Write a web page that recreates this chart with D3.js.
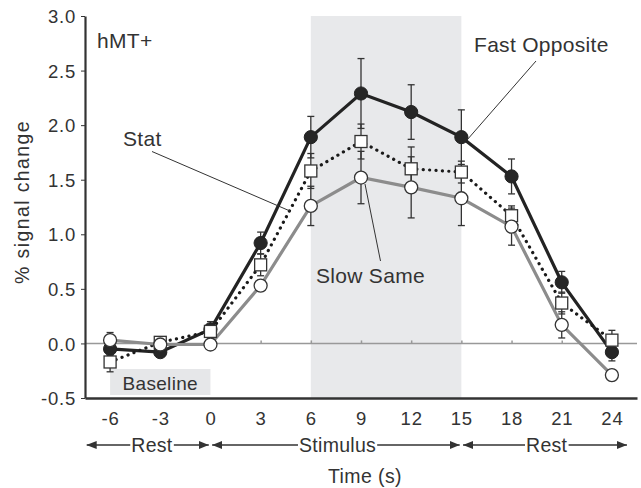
<!DOCTYPE html>
<html><head><meta charset="utf-8">
<script src="https://cdn.jsdelivr.net/npm/d3@7"></script>
<style>body{margin:0;background:#fff}svg{display:block}text{font-family:"Liberation Sans",Arial,Helvetica,sans-serif;fill:#333}</style>
</head><body>
<script>
const times = [-6,-3,0,3,6,9,12,15,18,21,24];
const fastOpposite = [-0.05,-0.08,0.13,0.92,1.89,2.29,2.12,1.89,1.53,0.56,-0.08];
const fastErr      = [0.06,0.03,0.07,0.10,0.19,0.32,0.25,0.25,0.16,0.10,0.08];
const stat         = [-0.17,0.01,0.11,0.72,1.58,1.85,1.60,1.57,1.17,0.37,0.03];
const statErr      = [0.09,0.03,0.06,0.10,0.16,0.16,0.20,0.10,0.09,0.10,0.09];
const slowSame     = [0.03,-0.01,-0.01,0.53,1.26,1.52,1.43,1.33,1.07,0.17,-0.29];
const slowErr      = [0.07,0.03,0.04,0.05,0.18,0.24,0.28,0.25,0.17,0.12,0.05];
const yTicks = [-0.5,0,0.5,1,1.5,2,2.5,3];
const xTicks = [-6,-3,0,3,6,9,12,15,18,21,24];

const W=641,H=488;
const svg=d3.select("body").append("svg").attr("width",W).attr("height",H);
const x=d3.scaleLinear().domain([-7.5,25.5]).range([85,637]);
const y=d3.scaleLinear().domain([-0.5,3.0]).range([398,16]);
const hy=f=>d=>f(d).replace("\u2212","-");

// stimulus shading
svg.append("rect").attr("x",x(6)).attr("y",y(3.0)).attr("width",x(15)-x(6)).attr("height",y(-0.5)-y(3.0)).attr("fill","#e8e9eb");
// baseline box
svg.append("rect").attr("x",x(-6)).attr("y",369).attr("width",x(0)-x(-6)).attr("height",26).attr("fill","#e6e7e9");
svg.append("text").attr("x",(x(-6)+x(0))/2).attr("y",390).attr("text-anchor","middle").attr("font-size",19).attr("letter-spacing",0.3).text("Baseline");

// zero line with ticks
const zl=svg.append("g").attr("transform",`translate(0,${y(0)})`)
  .call(d3.axisTop(x).tickValues(xTicks).tickSize(3).tickFormat("").tickSizeOuter(0));
zl.selectAll("path,line").attr("stroke","#999").attr("stroke-width",1.5);
zl.select("path").attr("d",`M${x(-7.5)},0H${x(25.5)}`);

// y axis
const ya=svg.append("g").attr("transform","translate(85,0)")
  .call(d3.axisLeft(y).tickValues(yTicks).tickSize(4).tickSizeOuter(0).tickFormat(hy(d3.format(".1f"))));
ya.select("path").attr("stroke","#333").attr("stroke-width",2.2);
ya.selectAll("line").attr("stroke","#333");
ya.selectAll("text").attr("font-size",18.5).attr("letter-spacing",0.8).attr("x",-9).attr("dy","0.36em").attr("font-family","Liberation Sans, Arial").attr("fill","#333");

// x axis
const xa=svg.append("g").attr("transform",`translate(0,${y(-0.5)})`)
  .call(d3.axisBottom(x).tickValues(xTicks).tickSize(0).tickSizeOuter(0).tickFormat(hy(d3.format("d"))));
xa.select("path").attr("stroke","#333").attr("stroke-width",2.5);
xa.selectAll("text").attr("font-size",18.5).attr("letter-spacing",0.8).attr("y",14).attr("font-family","Liberation Sans, Arial").attr("fill","#333");

// titles
svg.append("text").attr("transform","translate(29,202) rotate(-90)").attr("text-anchor","middle").attr("font-size",19.5).attr("letter-spacing",1.4).text("% signal change");
svg.append("text").attr("x",365).attr("y",483).attr("text-anchor","middle").attr("font-size",19.5).attr("letter-spacing",0.4).text("Time (s)");

// period arrows
const defs=svg.append("defs");
defs.append("marker").attr("id","ah").attr("viewBox","0 0 10 10").attr("refX",10).attr("refY",5)
  .attr("markerWidth",10).attr("markerHeight",10).attr("markerUnits","userSpaceOnUse").attr("orient","auto-start-reverse")
  .append("path").attr("d","M0,1L10,5L0,9Z").attr("fill","#333");
const periodLabels=["Rest","Stimulus","Rest"];
const periodStart=[-7.4,0.1,15.1], periodEnd=[-0.1,14.9,24.9], periodCenter=[-3.5,7.6,20.1];
const ay=445;
periodLabels.forEach((lab,i)=>{
  const t=svg.append("text").attr("x",x(periodCenter[i])).attr("y",ay+7).attr("text-anchor","middle").attr("font-size",19.5).attr("letter-spacing",0.3).text(lab);
  const bb=t.node().getBBox();
  svg.append("line").attr("x1",bb.x-1).attr("x2",x(periodStart[i])).attr("y1",ay).attr("y2",ay).attr("stroke","#333").attr("stroke-width",1.5).attr("marker-end","url(#ah)");
  svg.append("line").attr("x1",bb.x+bb.width+1).attr("x2",x(periodEnd[i])).attr("y1",ay).attr("y2",ay).attr("stroke","#333").attr("stroke-width",1.5).attr("marker-end","url(#ah)");
});

// error bars
function errBars(vals,errs){
  const g=svg.append("g").attr("stroke","#333").attr("stroke-width",1.3);
  times.forEach((t,i)=>{
    const cx=x(t),y1=y(vals[i]+errs[i]),y2=y(vals[i]-errs[i]);
    g.append("line").attr("x1",cx).attr("x2",cx).attr("y1",y1).attr("y2",y2);
    g.append("line").attr("x1",cx-3.5).attr("x2",cx+3.5).attr("y1",y1).attr("y2",y1);
    g.append("line").attr("x1",cx-3.5).attr("x2",cx+3.5).attr("y1",y2).attr("y2",y2);
  });
}
errBars(fastOpposite,fastErr);errBars(stat,statErr);errBars(slowSame,slowErr);

const line=d3.line().x((d,i)=>x(times[i])).y(d=>y(d));
svg.append("path").datum(fastOpposite).attr("d",line).attr("fill","none").attr("stroke","#232323").attr("stroke-width",3.2);
svg.append("path").datum(stat).attr("d",line).attr("fill","none").attr("stroke","#1a1a1a").attr("stroke-width",3.2).attr("stroke-linecap","round").attr("stroke-dasharray","0.1 6.3");
svg.append("path").datum(slowSame).attr("d",line).attr("fill","none").attr("stroke","#8c8c8c").attr("stroke-width",3.2);

// markers
svg.append("g").selectAll("circle").data(fastOpposite).join("circle")
  .attr("cx",(d,i)=>x(times[i])).attr("cy",d=>y(d)).attr("r",6.6).attr("fill","#262626").attr("stroke","#222").attr("stroke-width",1);
svg.append("g").selectAll("rect").data(stat).join("rect")
  .attr("x",(d,i)=>x(times[i])-6).attr("y",d=>y(d)-6).attr("width",12).attr("height",12).attr("fill","#fff").attr("stroke","#333").attr("stroke-width",1.3);
svg.append("g").selectAll("circle").data(slowSame).join("circle")
  .attr("cx",(d,i)=>x(times[i])).attr("cy",d=>y(d)).attr("r",6.5).attr("fill","#fff").attr("stroke","#333").attr("stroke-width",1.3);

// annotations
svg.append("text").attr("x",97).attr("y",48).attr("font-size",21).attr("letter-spacing",0.3).text("hMT+");
svg.append("text").attr("x",123).attr("y",146).attr("font-size",21).attr("letter-spacing",0.3).text("Stat");
svg.append("line").attr("x1",152).attr("y1",151.5).attr("x2",290).attr("y2",211).attr("stroke","#333").attr("stroke-width",1);
svg.append("text").attr("x",474).attr("y",52).attr("font-size",21).attr("letter-spacing",0.3).text("Fast Opposite");
svg.append("line").attr("x1",536).attr("y1",61).attr("x2",467).attr("y2",140).attr("stroke","#333").attr("stroke-width",1);
svg.append("text").attr("x",316).attr("y",283).attr("font-size",21).attr("letter-spacing",0.3).text("Slow Same");
svg.append("line").attr("x1",365).attr("y1",184).attr("x2",380.5).attr("y2",261).attr("stroke","#333").attr("stroke-width",1);
</script>
</body></html>
